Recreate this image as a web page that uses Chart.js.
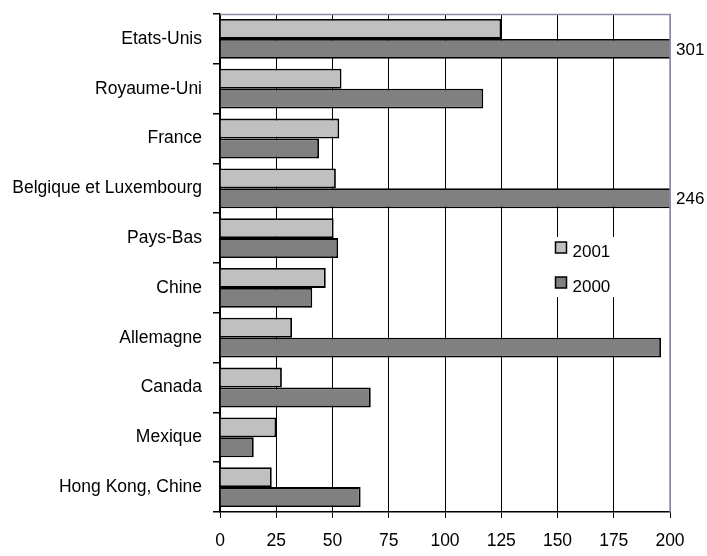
<!DOCTYPE html>
<html>
<head>
<meta charset="utf-8">
<script src="https://cdn.jsdelivr.net/npm/chart.js@4.4.1/dist/chart.umd.min.js"></script>
<style>
  html, body { margin: 0; padding: 0; background: #fff; }
  #wrap { width: 707px; height: 556px; }
</style>
</head>
<body>
<div id="wrap"><canvas id="chart" width="707" height="556"></canvas></div>
<script>
// categories and values
const countries = ['Etats-Unis', 'Royaume-Uni', 'France', 'Belgique et Luxembourg', 'Pays-Bas',
  'Chine', 'Allemagne', 'Canada', 'Mexique', 'Hong Kong, Chine'];
const values2001 = [125, 54, 53, 51.5, 50.5, 47, 32, 27.5, 25, 23];
const values2000 = [301, 117, 44, 246, 52.5, 41, 196, 67, 15, 62.5];
const xTicks = [0, 25, 50, 75, 100, 125, 150, 175, 200];

const FONT = '"Liberation Sans", Arial, sans-serif';
const XMAX = xTicks[xTicks.length - 1];

// frame (top + right), values for clipped bars, legend inside the plot
const extras = {
  id: 'extras',
  afterDatasetsDraw(chart) {
    const { ctx, chartArea: a, scales } = chart;
    ctx.save();
    ctx.strokeStyle = '#8a8aa8';
    ctx.lineWidth = 1.5;
    ctx.beginPath();
    ctx.moveTo(a.left, a.top + 0.5);
    ctx.lineTo(a.right, a.top + 0.5);
    ctx.lineTo(a.right, a.bottom);
    ctx.stroke();

    // labels for bars that run past the axis end
    ctx.fillStyle = '#000';
    ctx.font = '17px ' + FONT;
    ctx.textBaseline = 'middle';
    ctx.textAlign = 'left';
    chart.data.datasets.forEach((ds, i) => {
      const meta = chart.getDatasetMeta(i);
      ds.data.forEach((v, j) => {
        if (v > XMAX) {
          const bar = meta.data[j];
          ctx.fillText(String(v), scales.x.getPixelForValue(XMAX) + 6, bar.y + 1);
        }
      });
    });

    // legend box
    const lx = scales.x.getPixelForValue(150) - 2;
    const ly = 238;
    ctx.fillStyle = '#fff';
    ctx.fillRect(lx - 8, ly - 1, 68, 60);
    chart.data.datasets.forEach((ds, i) => {
      const y = ly + 10 + i * 35;
      ctx.fillStyle = ds.backgroundColor;
      ctx.fillRect(lx, y - 6, 11, 11);
      ctx.strokeStyle = '#000';
      ctx.lineWidth = 1.5;
      ctx.strokeRect(lx, y - 6, 11, 11);
      ctx.fillStyle = '#000';
      ctx.font = '17px ' + FONT;
      ctx.fillText(ds.label, lx + 17, y + 4);
    });
    ctx.restore();
  }
};

new Chart(document.getElementById('chart'), {
  type: 'bar',
  data: {
    labels: countries,
    datasets: [
      { label: '2001', data: values2001, backgroundColor: '#c0c0c0', borderColor: '#000', borderWidth: 1.8,
        categoryPercentage: 0.8, barPercentage: 1.0 },
      { label: '2000', data: values2000, backgroundColor: '#808080', borderColor: '#000', borderWidth: 1.8,
        categoryPercentage: 0.8, barPercentage: 1.0 }
    ]
  },
  options: {
    indexAxis: 'y',
    responsive: false,
    animation: false,
    layout: { padding: { left: 0, right: 37, top: 14, bottom: 0 } },
    plugins: { legend: { display: false }, tooltip: { enabled: false } },
    scales: {
      x: {
        min: 0, max: XMAX,
        afterBuildTicks: (s) => { s.ticks = xTicks.map(v => ({ value: v })); },
        afterFit: (s) => { s.height = 44; },
        border: { display: true, color: '#000', width: 1.5 },
        grid: {
          color: (c) => c.tick && c.tick.value === XMAX ? '#8a8aa8' : '#000',
          lineWidth: 1,
          tickLength: 6,
          tickColor: '#000'
        },
        ticks: { color: '#000', padding: 13, font: { family: FONT, size: 17.5 }, maxRotation: 0 }
      },
      y: {
        afterFit: (s) => { s.width = 220; s.paddingTop = 0; s.paddingBottom = 0; },
        border: { display: true, color: '#000', width: 1.5 },
        grid: { offset: true, drawOnChartArea: false, tickLength: 7, color: '#000', lineWidth: 1.5 },
        ticks: { color: '#000', padding: 11, font: { family: FONT, size: 17.5 } }
      }
    }
  },
  plugins: [extras]
});
</script>
</body>
</html>
